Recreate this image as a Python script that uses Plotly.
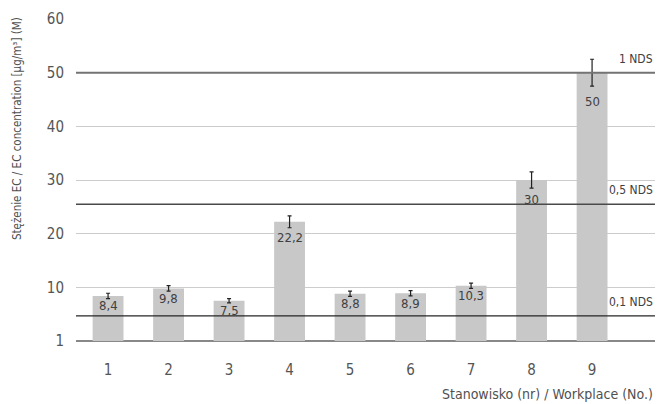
import plotly.graph_objects as go

categories = ["1", "2", "3", "4", "5", "6", "7", "8", "9"]
values = [8.4, 9.8, 7.5, 22.2, 8.8, 8.9, 10.3, 30, 50]
errors = [0.5, 0.5, 0.4, 1.1, 0.5, 0.5, 0.5, 1.5, 2.5]
nds_levels = [50, 25.5, 4.7]
nds_labels = ["1 NDS", "0,5 NDS", "0,1 NDS"]
y_tickvals = [0, 10, 20, 30, 40, 50, 60]
y_ticktext = ["1", "10", "20", "30", "40", "50", "60"]

FONT = "Liberation Sans Narrow, DejaVu Sans Condensed, Arial Narrow, sans-serif"
x_pos = list(range(1, len(categories) + 1))
labels = [f"{v:g}".replace(".", ",") for v in values]

Y_MAX = 60
PLOT_H = 404 - 19 - 63
px_per_unit = PLOT_H / Y_MAX

fig = go.Figure()
fig.add_trace(go.Bar(
    x=x_pos, y=values, width=0.51,
    marker=dict(color="#c8c8c8", line=dict(width=0)),
    error_y=dict(type="data", array=errors, visible=True,
                 color="#222222", thickness=1.2, width=2),
    hoverinfo="skip",
))

# value labels inside the top of each bar, pushed below larger error bars
for xv, v, e, lab in zip(x_pos, values, errors, labels):
    err_px = e * px_per_unit
    shift = -10 - max(0.0, err_px - 3) * 1.8
    fig.add_annotation(x=xv, y=v, xref="x", yref="y", yanchor="middle",
                       yshift=shift, text=lab, showarrow=False,
                       font=dict(family=FONT, size=13, color="#404040"))

line_styles = [("#737373", 2), ("#4a4a4a", 1.5), ("#262626", 1.2)]
for lvl, lab, (col, w) in zip(nds_levels, nds_labels, line_styles):
    fig.add_shape(type="line", xref="paper", x0=0, x1=1, yref="y", y0=lvl, y1=lvl,
                  line=dict(color=col, width=w), layer="above")
    fig.add_annotation(xref="paper", x=1, xanchor="right", yref="y", y=lvl,
                       yanchor="middle", yshift=14, text=lab, showarrow=False,
                       font=dict(family=FONT, size=12, color="#404040"))

fig.add_annotation(xref="paper", x=1, xanchor="right", yref="paper", y=-0.164,
                   yanchor="middle", text="Stanowisko (nr) / Workplace (No.)",
                   showarrow=False, font=dict(family=FONT, size=14, color="#505050"))
fig.add_annotation(xref="paper", x=-0.102, xanchor="center", yref="paper", y=0.661,
                   yanchor="middle", textangle=-90,
                   text="Stężenie EC / EC concentration [µg/m³] (M)",
                   showarrow=False, font=dict(family=FONT, size=11.5, color="#505050"))

fig.update_layout(
    width=657, height=404,
    margin=dict(l=76, r=2, t=19, b=63),
    paper_bgcolor="white", plot_bgcolor="white",
    showlegend=False, bargap=0.49,
    font=dict(family=FONT),
    xaxis=dict(range=[0.47, 10.04], tickvals=x_pos, ticktext=categories,
               showgrid=False, zeroline=False, showline=False, ticks="",
               ticklabelstandoff=18,
               tickfont=dict(family=FONT, size=15, color="#555555")),
    yaxis=dict(range=[0, Y_MAX], tickvals=y_tickvals, ticktext=y_ticktext,
               showgrid=True, gridcolor="#cccccc", gridwidth=1,
               zeroline=True, zerolinecolor="#888888", zerolinewidth=2,
               showline=False, ticks="", ticklabelstandoff=11,
               tickfont=dict(family=FONT, size=15, color="#555555")),
)

fig.write_html("out.html", config={"displayModeBar": False},
               post_script="document.body.style.margin='0';")
